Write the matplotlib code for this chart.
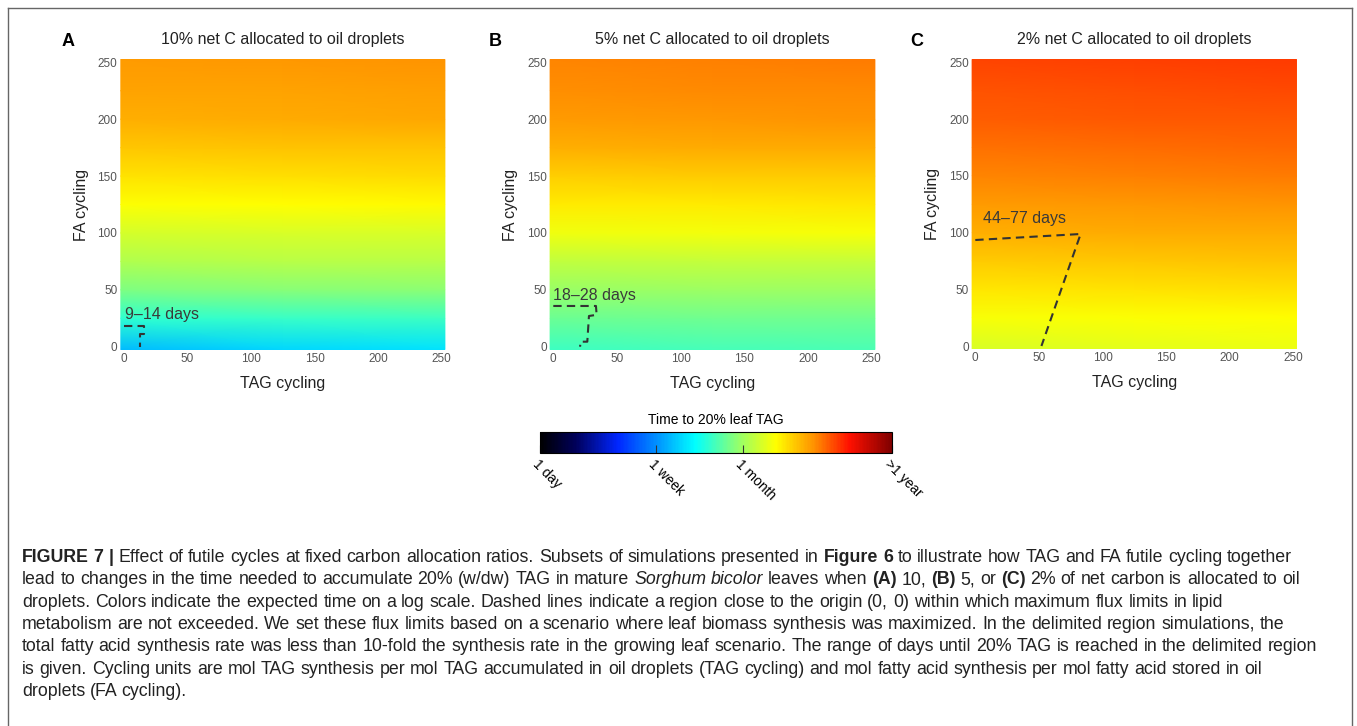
import numpy as np
import matplotlib.pyplot as plt
from matplotlib.colors import LinearSegmentedColormap, LogNorm
from matplotlib.cm import ScalarMappable
from matplotlib.lines import Line2D

W, H = 1357, 726

# grid nodes (TAG cycling across, FA cycling up)
tag_cycling = [0, 125, 250]
fa_cycling = [0, 25, 50, 75, 100, 125, 150, 175, 200, 225, 250]

# days to 20% leaf TAG, one row per FA cycling level
days_10pct = [[9.0, 10.5, 11.5], [17, 17.5, 18], [25, 26, 26.5], [33, 34, 34],
              [40, 41, 41.5], [51, 52, 53], [61, 63, 64], [72, 73, 74],
              [83, 85, 86], [88, 89, 90], [93, 95, 96]]
days_5pct = [[18, 19, 19.5], [22.5, 23, 23.5], [28.5, 29, 29.5], [36, 37, 37],
             [48, 49, 50], [58, 59, 60], [69, 70, 71], [82, 84, 85],
             [93, 95, 96], [99, 101, 102], [104, 106, 108]]
days_2pct = [[41, 44, 46], [50, 51, 52], [60, 61, 62], [71, 72, 73],
             [82, 84, 85], [93, 95, 96], [104, 106, 108], [114, 116, 118],
             [124, 127, 129], [132, 135, 137], [140, 143, 146]]

titles = ["10% net C allocated to oil droplets",
          "5% net C allocated to oil droplets",
          "2% net C allocated to oil droplets"]
letters = ["A", "B", "C"]
range_labels = ["9\u201314 days", "18\u201328 days", "44\u201377 days"]
label_at = [(1, 28), (0, 45), (6, 112)]
limit_tag = [[0, 15.7, 15.7, 12.6, 12.6],
             [0, 33.5, 34, 28, 26.7, 21.5, 21],
             [0, 82.8, 52]]
limit_fa = [[18, 18, 11, 11, 0],
            [35.8, 35.8, 28, 27, 4.4, 4.4, 0],
            [93.4, 98.7, 0]]

cbar_ticks = [1, 7, 30, 365]
cbar_labels = ["1 day", "1 week", "1 month", ">1 year"]

cmap_pos = [0, 0.1, 0.22, 0.33, 0.44, 0.56, 0.67, 0.78, 0.88, 1.0]
cmap_col = ["#000000", "#00005a", "#0026ff", "#0090ff", "#00ffff",
            "#90ff70", "#ffff00", "#ff9000", "#ff1000", "#800000"]
cmap = LinearSegmentedColormap.from_list("tag_time", list(zip(cmap_pos, cmap_col)))
norm = LogNorm(vmin=1, vmax=365)

plt.rcParams["font.family"] = ["Liberation Sans", "DejaVu Sans"]

fig = plt.figure(figsize=(W / 100, H / 100), dpi=100)

# pixel positions of data 0 and 250 for each panel
panel_px = [(124, 441.7, 346.7, 62.3),
            (553.3, 871.7, 346.7, 62.3),
            (975.3, 1293.3, 346.0, 62.3)]
pad = 3.0

for i, days in enumerate([days_10pct, days_5pct, days_2pct]):
    x0, x1, y0, y1 = panel_px[i]
    sx = (x1 - x0) / 250
    sy = (y0 - y1) / 250
    left = x0 - pad * sx
    right = x1 + pad * sx
    bottom = y0 + pad * sy
    top = y1 - pad * sy
    ax = fig.add_axes([left / W, 1 - bottom / H, (right - left) / W, (bottom - top) / H])

    X = np.array(tag_cycling, float)
    Y = np.array(fa_cycling, float)
    X[0] -= 2.5
    X[-1] += 2.5
    Y[0] -= 2.5
    Y[-1] += 2.5
    ax.pcolormesh(X, Y, np.array(days), cmap=cmap, norm=norm, shading="gouraud")
    ax.plot(limit_tag[i], limit_fa[i], color="#333333", lw=1.5, dashes=(4, 2.5))
    ax.text(label_at[i][0], label_at[i][1], range_labels[i], fontsize=11.5,
            color="#3a3a3a", ha="left", va="center")

    ax.set_xlim(-pad, 250 + pad)
    ax.set_ylim(-pad, 250 + pad)
    ax.set_xticks([0, 50, 100, 150, 200, 250])
    ax.set_yticks([0, 50, 100, 150, 200, 250])
    ax.tick_params(length=0, labelsize=8.5, labelcolor="#555555", pad=2)
    for s in ax.spines.values():
        s.set_visible(False)
    ax.set_xlabel("TAG cycling", fontsize=11.5, color="#222222", labelpad=8)
    ax.set_ylabel("FA cycling", fontsize=11.5, color="#222222", labelpad=6)
    ax.set_title(titles[i], fontsize=11.5, color="#222222", pad=11)

fig.text(62 / W, 1 - 42 / H, "A", fontsize=13, fontweight="bold", va="center")
fig.text(489 / W, 1 - 42 / H, "B", fontsize=13, fontweight="bold", va="center")
fig.text(910 / W, 1 - 42 / H, "C", fontsize=13, fontweight="bold", va="center")

# colour bar
cax = fig.add_axes([540 / W, 1 - 453 / H, 352 / W, 21 / H])
cb = fig.colorbar(ScalarMappable(norm=norm, cmap=cmap), cax=cax, orientation="horizontal")
cb.ax.minorticks_off()
cb.set_ticks(cbar_ticks)
cb.set_ticklabels(cbar_labels)
cb.outline.set_linewidth(0.8)
cb.ax.tick_params(direction="in", length=6, width=0.8, color="#333333", labelsize=10, pad=3)
for lab in cb.ax.get_xticklabels():
    lab.set_rotation(-45)
    lab.set_ha("left")
    lab.set_va("top")
    lab.set_rotation_mode("anchor")
cb.ax.set_title("Time to 20% leaf TAG", fontsize=10, pad=6)

# caption
caption = [
    [("FIGURE 7 |", "b"), ("Effect of futile cycles at fixed carbon allocation ratios. Subsets of simulations presented in", "r"),
     ("Figure 6", "b"), ("to illustrate how TAG and FA futile cycling together", "r")],
    [("lead to changes in the time needed to accumulate 20% (w/dw) TAG in mature", "r"), ("Sorghum bicolor", "i"),
     ("leaves when", "r"), ("(A)", "b"), ("10,", "r"), ("(B)", "b"), ("5, or", "r"), ("(C)", "b"),
     ("2% of net carbon is allocated to oil", "r")],
    [("droplets. Colors indicate the expected time on a log scale. Dashed lines indicate a region close to the origin (0, 0) within which maximum flux limits in lipid", "r")],
    [("metabolism are not exceeded. We set these flux limits based on a scenario where leaf biomass synthesis was maximized. In the delimited region simulations, the", "r")],
    [("total fatty acid synthesis rate was less than 10-fold the synthesis rate in the growing leaf scenario. The range of days until 20% TAG is reached in the delimited region", "r")],
    [("is given. Cycling units are mol TAG synthesis per mol TAG accumulated in oil droplets (TAG cycling) and mol fatty acid synthesis per mol fatty acid stored in oil", "r")],
    [("droplets (FA cycling).", "r")],
]
cap_font = ["Liberation Sans", "DejaVu Sans"]
cap_size = 12.8
styles = {"r": dict(), "b": dict(fontweight="bold"), "i": dict(fontstyle="italic")}
renderer = fig.canvas.get_renderer()


def ink_width(s, st):
    t = fig.text(0, 0, s, fontsize=cap_size, family=cap_font, **styles[st])
    w = t.get_window_extent(renderer).width
    t.remove()
    return w


# words of a run are spread evenly so the run is as wide as one string of it
for n, line in enumerate(caption):
    x = 22.0
    yb = 562 + n * 22.3
    for seg, st in line:
        words = seg.split(" ")
        widths = [ink_width(w, st) for w in words]
        full = ink_width(seg, st)
        if len(words) > 1:
            gap = (full - sum(widths)) / (len(words) - 1)
        else:
            gap = ink_width("n n", st) - 2 * ink_width("n", st)
        for word, w in zip(words, widths):
            fig.text(x / W, 1 - yb / H, word, fontsize=cap_size, family=cap_font,
                     color="#222222", va="baseline", ha="left", **styles[st])
            x += w + gap

# figure frame (top, left, right)
frame = dict(color="#666666", lw=1.0, transform=fig.transFigure)
fig.add_artist(Line2D([8 / W, 1352 / W], [1 - 8 / H, 1 - 8 / H], **frame))
fig.add_artist(Line2D([8 / W, 8 / W], [1 - 8 / H, 0], **frame))
fig.add_artist(Line2D([1352 / W, 1352 / W], [1 - 8 / H, 0], **frame))

fig.savefig("out.png", dpi=100)
